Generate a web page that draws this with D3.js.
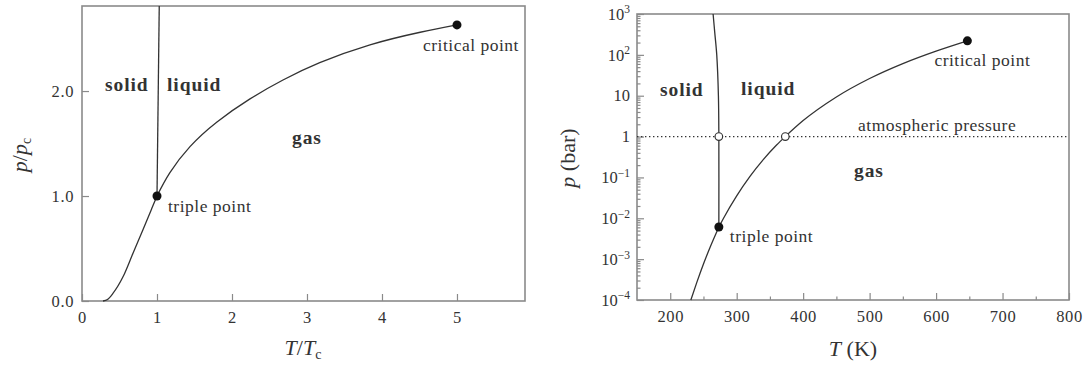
<!DOCTYPE html>
<html><head><meta charset="utf-8">
<script src="https://cdn.jsdelivr.net/npm/d3@7"></script>
<style>
body{margin:0;background:#fff}
svg{display:block}
text{font-family:"Liberation Serif","Times New Roman",serif;fill:#333}
</style></head>
<body><svg id="c" width="1088" height="367"></svg>
<script>
// ---------- Left panel (reduced units) ----------
const leftXTicks = [0, 1, 2, 3, 4, 5];
const leftYTicks = [0, 1, 2];
const leftSubT = [0.28, 0.34, 0.41, 0.55, 0.68, 0.81, 0.93, 1.0];
const leftSubP = [0.0, 0.015, 0.07, 0.235, 0.455, 0.675, 0.88, 1.0];
const leftVapT = [1.0, 1.17, 1.44, 1.8, 2.24, 2.68, 3.17, 3.84, 4.51, 5.0];
const leftVapP = [1.0, 1.22, 1.47, 1.705, 1.925, 2.105, 2.27, 2.44, 2.56, 2.63];
const leftMeltT = [1.0, 1.03];
const leftMeltP = [1.0, 2.81];
const leftTriple = [1.0, 1.0];
const leftCritical = [5.0, 2.63];

// ---------- Right panel (water, K and bar) ----------
const rightXTicks = [200, 300, 400, 500, 600, 700, 800];
const rightXMinor = [250, 350, 450, 550, 650, 750];
const rightYDecades = [-4, -3, -2, -1, 0, 1, 2, 3];
const rightSubT = [231, 240, 250, 260, 273.16];
const rightSubP = [1.0e-4, 2.7e-4, 7.6e-4, 1.96e-3, 6.1e-3];
const rightVapT = [273.16, 280, 300, 320, 340, 360, 373.15, 400, 450, 500, 550, 600, 647.1];
const rightVapP = [6.1e-3, 9.9e-3, 3.54e-2, 0.106, 0.273, 0.622, 1.0, 2.46, 9.32, 26.4, 61.2, 123.5, 220.6];
const rightMeltT = [273.16, 273.15, 272.5, 270.0, 267.0, 264.5];
const rightMeltP = [6.1e-3, 1, 10, 100, 350, 1000];
const rightTriple = [273.16, 6.1e-3];
const rightCritical = [647.1, 220.6];
const rightOpen = [[273.15, 1], [373.15, 1]];
const atmP = 1;

const svg = d3.select("#c");
const frameCol = "#8a8a8a", lineCol = "#333";
const FONT = "Liberation Serif, Times New Roman, serif";

function zip(a, b) { return a.map((v, i) => [v, b[i]]); }

// ===== LEFT =====
const L = {l: 82, r: 525, t: 6, b: 301};
const lx = d3.scaleLinear().domain([0, 5.907]).range([L.l, L.r]);
const ly = d3.scaleLinear().domain([0, 2.81]).range([L.b, L.t]);
const gL = svg.append("g");

const lxAxis = d3.axisBottom(lx).tickValues(leftXTicks).tickFormat(d3.format("d"))
  .tickSizeInner(-7).tickSizeOuter(0).tickPadding(10);
gL.append("g").attr("transform", `translate(0,${L.b})`).call(lxAxis);
const lyAxis = d3.axisLeft(ly).tickValues(leftYTicks).tickFormat(d3.format(".1f"))
  .tickSizeInner(-7).tickSizeOuter(0).tickPadding(8);
gL.append("g").attr("transform", `translate(${L.l},0)`).call(lyAxis);

gL.append("rect").attr("x", L.l).attr("y", L.t).attr("width", L.r - L.l).attr("height", L.b - L.t)
  .attr("fill", "none").attr("stroke", frameCol).attr("stroke-width", 1.6);

const lsub = d3.line().x(d => lx(d[0])).y(d => ly(d[1])).curve(d3.curveMonotoneX);
const lvap = d3.line().x(d => lx(d[0])).y(d => ly(d[1])).curve(d3.curveNatural);
gL.append("path").attr("d", lsub(zip(leftSubT, leftSubP))).attr("fill", "none").attr("stroke", lineCol).attr("stroke-width", 1.3);
gL.append("path").attr("d", lvap(zip(leftVapT, leftVapP))).attr("fill", "none").attr("stroke", lineCol).attr("stroke-width", 1.3);
gL.append("path").attr("d", d3.line().x(d => lx(d[0])).y(d => ly(d[1]))(zip(leftMeltT, leftMeltP)))
  .attr("fill", "none").attr("stroke", lineCol).attr("stroke-width", 1.3);
[leftTriple, leftCritical].forEach(p => gL.append("circle").attr("cx", lx(p[0])).attr("cy", ly(p[1])).attr("r", 4.5).attr("fill", "#111"));

// labels
function bold(g, x, y, s) { g.append("text").attr("x", x).attr("y", y).attr("font-weight", "bold").attr("font-size", 19.5).attr("letter-spacing", 0.9).attr("fill", "#1a1a1a").text(s); }
function note(g, x, y, s) { g.append("text").attr("x", x).attr("y", y).attr("font-size", 17.5).attr("letter-spacing", 0.5).attr("fill", "#444").text(s); }
bold(gL, 105, 91, "solid");
bold(gL, 167, 91, "liquid");
bold(gL, 292, 144, "gas");
note(gL, lx(leftTriple[0]) + 11, ly(leftTriple[1]) + 16, "triple point");
note(gL, lx(leftCritical[0]) - 34, ly(leftCritical[1]) + 26, "critical point");

// axis titles left
const ylabL = gL.append("text").attr("transform", "translate(27,155) rotate(-90)").attr("text-anchor", "middle").attr("font-size", 22);
ylabL.append("tspan").attr("font-style", "italic").text("p");
ylabL.append("tspan").text("/");
ylabL.append("tspan").attr("font-style", "italic").text("p");
ylabL.append("tspan").attr("font-size", 14).attr("dy", "0.3em").text("c");
const xlabL = gL.append("text").attr("x", 303).attr("y", 355).attr("text-anchor", "middle").attr("font-size", 22);
xlabL.append("tspan").attr("font-style", "italic").text("T");
xlabL.append("tspan").text("/");
xlabL.append("tspan").attr("font-style", "italic").text("T");
xlabL.append("tspan").attr("font-size", 14).attr("dy", "0.3em").text("c");

// ===== RIGHT =====
const R = {l: 637, r: 1069, t: 14, b: 300};
const rx = d3.scaleLinear().domain([150, 800]).range([R.l, R.r]);
const ry = d3.scaleLog().domain([1e-4, 1e3]).range([R.b, R.t]);
const gR = svg.append("g");

const rxAxis = d3.axisBottom(rx).tickValues(rightXTicks).tickFormat(d3.format("d"))
  .tickSizeInner(-7).tickSizeOuter(0).tickPadding(10);
gR.append("g").attr("transform", `translate(0,${R.b})`).call(rxAxis);
const rxMinor = d3.axisBottom(rx).tickValues(rightXMinor).tickFormat("").tickSizeInner(-3.5).tickSizeOuter(0);
gR.append("g").attr("transform", `translate(0,${R.b})`).call(rxMinor);

const majorVals = rightYDecades.map(e => Math.pow(10, e));
const minorVals = [];
rightYDecades.slice(0, -1).forEach(e => { for (let k = 2; k <= 9; k++) minorVals.push(k * Math.pow(10, e)); });
const ryAxis = d3.axisLeft(ry).tickValues(majorVals).tickFormat("")
  .tickSizeInner(-7).tickSizeOuter(0).tickPadding(8);
const ryG = gR.append("g").attr("transform", `translate(${R.l},0)`).call(ryAxis);
const ryMinor = d3.axisLeft(ry).tickValues(minorVals).tickFormat("").tickSizeInner(-3.5).tickSizeOuter(0);
gR.append("g").attr("transform", `translate(${R.l},0)`).call(ryMinor);

gR.append("rect").attr("x", R.l).attr("y", R.t).attr("width", R.r - R.l).attr("height", R.b - R.t)
  .attr("fill", "none").attr("stroke", frameCol).attr("stroke-width", 1.6);

// atmospheric pressure dotted line
gR.append("line").attr("x1", rx(150)).attr("x2", rx(800)).attr("y1", ry(atmP)).attr("y2", ry(atmP))
  .attr("stroke", lineCol).attr("stroke-width", 1.2).attr("stroke-dasharray", "1.4,2.6");

const rline = d3.line().x(d => rx(d[0])).y(d => ry(d[1])).curve(d3.curveMonotoneX);
gR.append("path").attr("d", rline(zip(rightSubT, rightSubP))).attr("fill", "none").attr("stroke", lineCol).attr("stroke-width", 1.3);
gR.append("path").attr("d", rline(zip(rightVapT, rightVapP))).attr("fill", "none").attr("stroke", lineCol).attr("stroke-width", 1.3);
const rmelt = d3.line().x(d => rx(d[0])).y(d => ry(d[1])).curve(d3.curveCatmullRom.alpha(0.5));
gR.append("path").attr("d", rmelt(zip(rightMeltT, rightMeltP))).attr("fill", "none").attr("stroke", lineCol).attr("stroke-width", 1.3);

[rightTriple, rightCritical].forEach(p => gR.append("circle").attr("cx", rx(p[0])).attr("cy", ry(p[1])).attr("r", 4.5).attr("fill", "#111"));
rightOpen.forEach(p => gR.append("circle").attr("cx", rx(p[0])).attr("cy", ry(p[1])).attr("r", 3.8)
  .attr("fill", "#fff").attr("stroke", lineCol).attr("stroke-width", 1.2));

bold(gR, 660, 96, "solid");
bold(gR, 741, 95, "liquid");
bold(gR, 854, 177, "gas");
note(gR, rx(rightTriple[0]) + 11, ry(rightTriple[1]) + 15, "triple point");
note(gR, rx(rightCritical[0]) - 33, ry(rightCritical[1]) + 25, "critical point");
note(gR, 858, 131, "atmospheric pressure");

const ylabR = gR.append("text").attr("transform", "translate(575,158) rotate(-90)").attr("text-anchor", "middle").attr("font-size", 22);
ylabR.append("tspan").attr("font-style", "italic").text("p");
ylabR.append("tspan").text(" (bar)");
const xlabR = gR.append("text").attr("x", 853).attr("y", 356).attr("text-anchor", "middle").attr("font-size", 22);
xlabR.append("tspan").attr("font-style", "italic").text("T");
xlabR.append("tspan").text(" (K)");

// tick styling
svg.selectAll(".tick line").attr("stroke", frameCol).attr("stroke-width", 1.2);
svg.selectAll(".domain").remove();
svg.selectAll(".tick text").attr("font-family", FONT).attr("font-size", 16.5).attr("letter-spacing", 0.6).attr("fill", "#444");

// y tick labels with superscripts (right panel)
ryG.selectAll(".tick").each(function(d) {
  const e = Math.round(Math.log10(d));
  const t = d3.select(this).select("text").attr("x", -7).attr("dy", "0.32em").attr("letter-spacing", 0);
  t.text(null);
  if (e === 0) t.append("tspan").text("1");
  else if (e === 1) t.append("tspan").text("10");
  else {
    t.append("tspan").text("10");
    t.append("tspan").attr("font-size", 11.5).attr("dy", "-0.55em").text(e < 0 ? "\u2212" + (-e) : String(e));
  }
});
</script>
</body></html>
